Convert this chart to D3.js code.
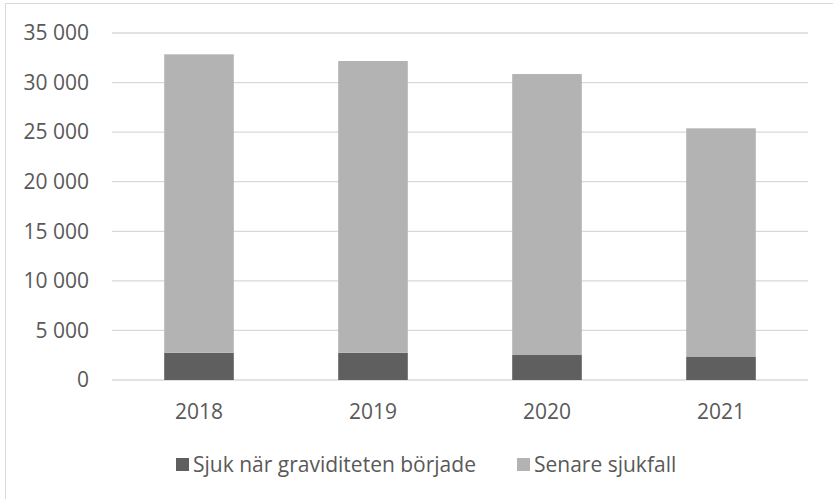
<!DOCTYPE html>
<html>
<head>
<meta charset="utf-8">
<script src="https://cdn.jsdelivr.net/npm/d3@7"></script>
<style>
  body { margin: 0; background: #fff; }
  svg { display: block; font-family: "Open Sans", sans-serif; }
</style>
</head>
<body>
<div id="chart"></div>
<script>
// data
const years = ["2018", "2019", "2020", "2021"];
const sjukVidStart = [2750, 2750, 2520, 2320];
const senareSjukfall = [30100, 29425, 28340, 23065];
const seriesNames = ["Sjuk när graviditeten började", "Senare sjukfall"];
const yTicks = [0, 5000, 10000, 15000, 20000, 25000, 30000, 35000];

const width = 833, height = 499;
const margin = { top: 33, right: 25, bottom: 119, left: 112 };
const colors = ["#5f5f5f", "#b3b3b3"];

const rows = years.map((y, i) => ({ year: y, a: sjukVidStart[i], b: senareSjukfall[i] }));
const stacked = d3.stack().keys(["a", "b"])(rows);

const svg = d3.select("#chart")
  .append("svg")
  .attr("width", width)
  .attr("height", height);

// chart border
svg.append("rect")
  .attr("x", 5.5)
  .attr("y", 3.5)
  .attr("width", width + 10)
  .attr("height", height + 10)
  .attr("fill", "none")
  .attr("stroke", "#d9d9d9");

const x = d3.scaleBand()
  .domain(years)
  .range([margin.left, width - margin.right])
  .paddingInner(0.6)
  .paddingOuter(0.3);

const y = d3.scaleLinear()
  .domain([0, 35000])
  .range([height - margin.bottom, margin.top]);

// gridlines
svg.append("g")
  .selectAll("line")
  .data(yTicks)
  .enter()
  .append("line")
  .attr("x1", margin.left)
  .attr("x2", width - margin.right)
  .attr("y1", (d) => y(d))
  .attr("y2", (d) => y(d))
  .attr("stroke", "#d9d9d9")
  .attr("stroke-width", 1.3);

// y axis labels
const fmt = (d) => d3.format(",")(d).replace(",", " ");
const yAxis = d3.axisLeft(y).tickValues(yTicks).tickFormat(fmt).tickSize(0).tickPadding(23);
svg.append("g")
  .attr("transform", `translate(${margin.left},0)`)
  .call(yAxis)
  .call((g) => g.select(".domain").remove())
  .selectAll("text")
  .attr("fill", "#595959")
  .style("font-size", "21px")
  .style("font-family", "'Open Sans', sans-serif");

// bars
svg.append("g")
  .selectAll("g")
  .data(stacked)
  .enter()
  .append("g")
  .attr("fill", (d, i) => colors[i])
  .selectAll("rect")
  .data((d) => d)
  .enter()
  .append("rect")
  .attr("x", (d) => x(d.data.year))
  .attr("width", x.bandwidth())
  .attr("y", (d) => y(d[1]))
  .attr("height", (d) => y(d[0]) - y(d[1]));

// x axis labels
const xAxis = d3.axisBottom(x).tickSize(0).tickPadding(24);
svg.append("g")
  .attr("transform", `translate(0,${y(0)})`)
  .call(xAxis)
  .call((g) => g.select(".domain").remove())
  .selectAll("text")
  .attr("fill", "#595959")
  .style("font-size", "21px")
  .style("font-family", "'Open Sans', sans-serif");

// legend
const legendX = [176, 517];
const legend = svg.append("g");
seriesNames.forEach((name, i) => {
  legend.append("rect")
    .attr("x", legendX[i])
    .attr("y", 458)
    .attr("width", 13)
    .attr("height", 13)
    .attr("fill", colors[i]);
  legend.append("text")
    .attr("x", legendX[i] + 17)
    .attr("y", 472)
    .attr("fill", "#595959")
    .style("font-size", "21px")
    .text(name);
});
</script>
</body>
</html>
